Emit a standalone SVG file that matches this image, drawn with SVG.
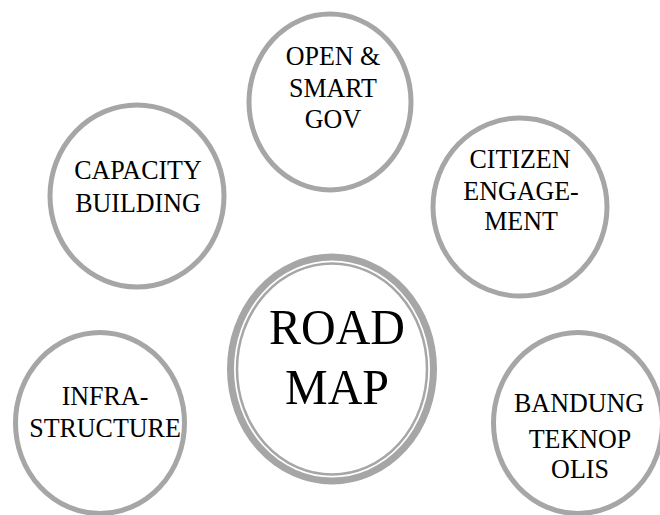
<svg xmlns="http://www.w3.org/2000/svg" width="660" height="515" viewBox="0 0 660 515">
  <style>
    .ring { fill: #ffffff; stroke: #a6a6a6; stroke-width: 5; }
    .hub-outer { fill: #ffffff; stroke: #a6a6a6; stroke-width: 7; }
    .hub-inner { fill: none; stroke: #a6a6a6; stroke-width: 2.5; }
    .lbl { font-family: "Liberation Serif", "Times New Roman", serif; font-size: 26px; fill: #000000; text-anchor: middle; }
    .hub-lbl { font-family: "Liberation Serif", "Times New Roman", serif; font-size: 48px; fill: #000000; text-anchor: middle; }
  </style>
  <rect width="660" height="515" fill="#ffffff"/>

  <g id="connectors"></g>

  <!-- labels are stretched 7% vertically about their own baseline -->
  <g id="open-smart-gov">
    <ellipse class="ring" cx="330" cy="102" rx="81" ry="88"/>
    <text class="lbl" x="333" y="65" transform="matrix(1 0 0 1.07 0 -4.55)">OPEN &amp;</text>
    <text class="lbl" x="333" y="97" transform="matrix(1 0 0 1.07 0 -6.79)">SMART</text>
    <text class="lbl" x="333" y="128" transform="matrix(1 0 0 1.07 0 -8.96)">GOV</text>
  </g>

  <g id="capacity-building">
    <ellipse class="ring" cx="137" cy="196" rx="87" ry="91"/>
    <text class="lbl" x="138" y="179" transform="matrix(1 0 0 1.07 0 -12.53)">CAPACITY</text>
    <text class="lbl" x="138" y="212" transform="matrix(1 0 0 1.07 0 -14.84)">BUILDING</text>
  </g>

  <g id="citizen-engagement">
    <ellipse class="ring" cx="520" cy="207" rx="87" ry="89"/>
    <text class="lbl" x="520" y="168" transform="matrix(1 0 0 1.07 0 -11.76)">CITIZEN</text>
    <text class="lbl" x="521" y="200" transform="matrix(1 0 0 1.07 0 -14)">ENGAGE-</text>
    <text class="lbl" x="521" y="230" transform="matrix(1 0 0 1.07 0 -16.1)">MENT</text>
  </g>

  <g id="road-map">
    <ellipse class="hub-outer" cx="332" cy="369" rx="101.5" ry="112"/>
    <ellipse class="hub-inner" cx="332" cy="369" rx="95" ry="105.5"/>
    <text class="hub-lbl" x="337" y="344" transform="matrix(1 0 0 1.07 0 -24.08)">ROAD</text>
    <text class="hub-lbl" x="337" y="404" transform="matrix(1 0 0 1.07 0 -28.28)">MAP</text>
  </g>

  <g id="infrastructure">
    <ellipse class="ring" cx="100" cy="423" rx="84.5" ry="90.5"/>
    <text class="lbl" x="105" y="405" transform="matrix(1 0 0 1.07 0 -28.35)">INFRA-</text>
    <text class="lbl" x="105" y="437" transform="matrix(1 0 0 1.07 0 -30.59)">STRUCTURE</text>
  </g>

  <g id="bandung-teknopolis">
    <ellipse class="ring" cx="578" cy="423" rx="84.5" ry="90.5"/>
    <text class="lbl" x="579" y="412" transform="matrix(1 0 0 1.07 0 -28.84)">BANDUNG</text>
    <text class="lbl" x="580" y="448" transform="matrix(1 0 0 1.07 0 -31.36)">TEKNOP</text>
    <text class="lbl" x="580" y="478" transform="matrix(1 0 0 1.07 0 -33.46)">OLIS</text>
  </g>
</svg>
